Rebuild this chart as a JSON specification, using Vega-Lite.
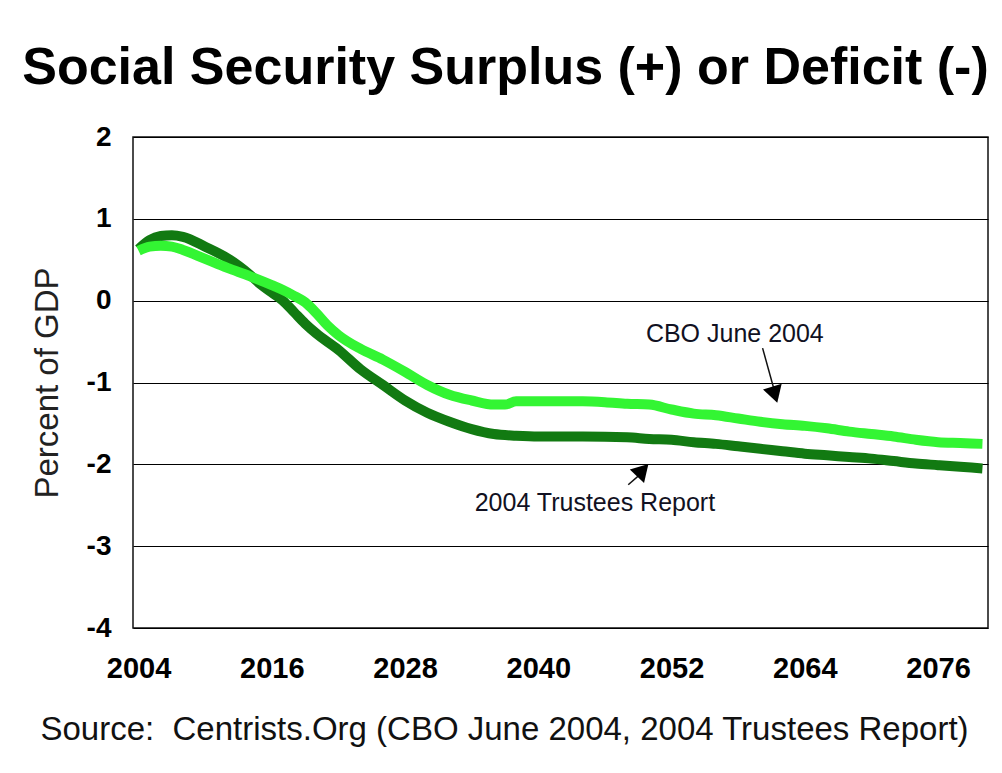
{
  "$schema": "https://vega.github.io/schema/vega-lite/v6.json",
  "width": 855,
  "height": 491,
  "autosize": "none",
  "padding": {"left": 133, "top": 137, "right": 14, "bottom": 145},
  "background": "white",
  "config": {
    "font": "Liberation Sans",
    "view": {"stroke": "#111111", "strokeWidth": 1.5}
  },
  "title": {
    "text": "Social Security Surplus (+) or Deficit (-)",
    "font": "Liberation Sans",
    "fontSize": 52,
    "fontWeight": "bold",
    "color": "#000000",
    "anchor": "middle",
    "frame": "group",
    "dx": -55,
    "offset": 28
  },
  "datasets": {
    "series": [
      {"year": 2004, "value": 0.63, "series": "2004 Trustees Report"},
      {"year": 2005, "value": 0.74, "series": "2004 Trustees Report"},
      {"year": 2006, "value": 0.79, "series": "2004 Trustees Report"},
      {"year": 2007, "value": 0.8, "series": "2004 Trustees Report"},
      {"year": 2008, "value": 0.78, "series": "2004 Trustees Report"},
      {"year": 2010, "value": 0.66, "series": "2004 Trustees Report"},
      {"year": 2012, "value": 0.52, "series": "2004 Trustees Report"},
      {"year": 2014, "value": 0.32, "series": "2004 Trustees Report"},
      {"year": 2015, "value": 0.2, "series": "2004 Trustees Report"},
      {"year": 2016, "value": 0.1, "series": "2004 Trustees Report"},
      {"year": 2017, "value": 0.0, "series": "2004 Trustees Report"},
      {"year": 2018, "value": -0.14, "series": "2004 Trustees Report"},
      {"year": 2019, "value": -0.28, "series": "2004 Trustees Report"},
      {"year": 2020, "value": -0.4, "series": "2004 Trustees Report"},
      {"year": 2022, "value": -0.6, "series": "2004 Trustees Report"},
      {"year": 2024, "value": -0.84, "series": "2004 Trustees Report"},
      {"year": 2026, "value": -1.03, "series": "2004 Trustees Report"},
      {"year": 2028, "value": -1.22, "series": "2004 Trustees Report"},
      {"year": 2030, "value": -1.37, "series": "2004 Trustees Report"},
      {"year": 2032, "value": -1.48, "series": "2004 Trustees Report"},
      {"year": 2034, "value": -1.57, "series": "2004 Trustees Report"},
      {"year": 2036, "value": -1.63, "series": "2004 Trustees Report"},
      {"year": 2038, "value": -1.65, "series": "2004 Trustees Report"},
      {"year": 2040, "value": -1.66, "series": "2004 Trustees Report"},
      {"year": 2044, "value": -1.66, "series": "2004 Trustees Report"},
      {"year": 2048, "value": -1.67, "series": "2004 Trustees Report"},
      {"year": 2050, "value": -1.69, "series": "2004 Trustees Report"},
      {"year": 2052, "value": -1.7, "series": "2004 Trustees Report"},
      {"year": 2054, "value": -1.73, "series": "2004 Trustees Report"},
      {"year": 2056, "value": -1.75, "series": "2004 Trustees Report"},
      {"year": 2058, "value": -1.78, "series": "2004 Trustees Report"},
      {"year": 2060, "value": -1.81, "series": "2004 Trustees Report"},
      {"year": 2062, "value": -1.84, "series": "2004 Trustees Report"},
      {"year": 2064, "value": -1.87, "series": "2004 Trustees Report"},
      {"year": 2066, "value": -1.89, "series": "2004 Trustees Report"},
      {"year": 2068, "value": -1.91, "series": "2004 Trustees Report"},
      {"year": 2070, "value": -1.93, "series": "2004 Trustees Report"},
      {"year": 2072, "value": -1.96, "series": "2004 Trustees Report"},
      {"year": 2074, "value": -1.99, "series": "2004 Trustees Report"},
      {"year": 2076, "value": -2.01, "series": "2004 Trustees Report"},
      {"year": 2078, "value": -2.03, "series": "2004 Trustees Report"},
      {"year": 2080, "value": -2.05, "series": "2004 Trustees Report"},
      {"year": 2004, "value": 0.61, "series": "CBO June 2004"},
      {"year": 2005, "value": 0.66, "series": "CBO June 2004"},
      {"year": 2006, "value": 0.67, "series": "CBO June 2004"},
      {"year": 2007, "value": 0.66, "series": "CBO June 2004"},
      {"year": 2008, "value": 0.62, "series": "CBO June 2004"},
      {"year": 2010, "value": 0.51, "series": "CBO June 2004"},
      {"year": 2012, "value": 0.4, "series": "CBO June 2004"},
      {"year": 2014, "value": 0.3, "series": "CBO June 2004"},
      {"year": 2016, "value": 0.19, "series": "CBO June 2004"},
      {"year": 2017, "value": 0.13, "series": "CBO June 2004"},
      {"year": 2018, "value": 0.06, "series": "CBO June 2004"},
      {"year": 2019, "value": -0.02, "series": "CBO June 2004"},
      {"year": 2020, "value": -0.15, "series": "CBO June 2004"},
      {"year": 2021, "value": -0.3, "series": "CBO June 2004"},
      {"year": 2022, "value": -0.42, "series": "CBO June 2004"},
      {"year": 2024, "value": -0.59, "series": "CBO June 2004"},
      {"year": 2026, "value": -0.72, "series": "CBO June 2004"},
      {"year": 2028, "value": -0.87, "series": "CBO June 2004"},
      {"year": 2030, "value": -1.03, "series": "CBO June 2004"},
      {"year": 2032, "value": -1.15, "series": "CBO June 2004"},
      {"year": 2034, "value": -1.22, "series": "CBO June 2004"},
      {"year": 2036, "value": -1.27, "series": "CBO June 2004"},
      {"year": 2037, "value": -1.27, "series": "CBO June 2004"},
      {"year": 2038, "value": -1.23, "series": "CBO June 2004"},
      {"year": 2040, "value": -1.23, "series": "CBO June 2004"},
      {"year": 2042, "value": -1.23, "series": "CBO June 2004"},
      {"year": 2044, "value": -1.23, "series": "CBO June 2004"},
      {"year": 2046, "value": -1.24, "series": "CBO June 2004"},
      {"year": 2048, "value": -1.26, "series": "CBO June 2004"},
      {"year": 2050, "value": -1.27, "series": "CBO June 2004"},
      {"year": 2052, "value": -1.33, "series": "CBO June 2004"},
      {"year": 2054, "value": -1.38, "series": "CBO June 2004"},
      {"year": 2056, "value": -1.4, "series": "CBO June 2004"},
      {"year": 2058, "value": -1.44, "series": "CBO June 2004"},
      {"year": 2060, "value": -1.48, "series": "CBO June 2004"},
      {"year": 2062, "value": -1.51, "series": "CBO June 2004"},
      {"year": 2064, "value": -1.53, "series": "CBO June 2004"},
      {"year": 2066, "value": -1.56, "series": "CBO June 2004"},
      {"year": 2068, "value": -1.6, "series": "CBO June 2004"},
      {"year": 2070, "value": -1.63, "series": "CBO June 2004"},
      {"year": 2072, "value": -1.66, "series": "CBO June 2004"},
      {"year": 2074, "value": -1.7, "series": "CBO June 2004"},
      {"year": 2076, "value": -1.73, "series": "CBO June 2004"},
      {"year": 2078, "value": -1.74, "series": "CBO June 2004"},
      {"year": 2080, "value": -1.75, "series": "CBO June 2004"}
    ],
    "labels": [
      {"label": "CBO June 2004", "year": 2057.7, "value": -0.41, "year1": 2060.2, "value1": -0.58, "year2": 2061.3, "value2": -1.12, "hy": 2061.3, "hv": -1.15, "shape": "triangle-down", "angle": -17},
      {"label": "2004 Trustees Report", "year": 2045.1, "value": -2.47, "year1": 2048.1, "value1": -2.25, "year2": 2049.2, "value2": -2.12, "hy": 2049.4, "hv": -2.07, "shape": "triangle-up", "angle": 43}
    ]
  },
  "encoding": {
    "x": {
      "field": "year",
      "type": "quantitative",
      "scale": {"domain": [2003.5, 2080.5], "nice": false, "zero": false},
      "axis": {
        "values": [2004, 2016, 2028, 2040, 2052, 2064, 2076],
        "format": "d",
        "grid": false,
        "ticks": false,
        "domain": false,
        "labelFont": "Liberation Sans",
        "labelFontSize": 29,
        "labelFontWeight": "bold",
        "labelColor": "#000000",
        "labelPadding": 26,
        "title": "Source:\u00a0\u00a0Centrists.Org (CBO June 2004, 2004 Trustees Report)",
        "titleFont": "Liberation Sans",
        "titleFontSize": 33,
        "titleFontWeight": "normal",
        "titleColor": "#111111",
        "titleX": 371,
        "titleAlign": "center",
        "titlePadding": 30
      }
    },
    "y": {
      "field": "value",
      "type": "quantitative",
      "scale": {"domain": [-4, 2], "nice": false, "zero": false},
      "axis": {
        "values": [-4, -3, -2, -1, 0, 1, 2],
        "labelExpr": "'' + datum.value",
        "grid": true,
        "gridColor": "#000000",
        "gridWidth": 1,
        "gridOpacity": 1,
        "ticks": false,
        "domain": false,
        "labelFont": "Liberation Sans",
        "labelFontSize": 28,
        "labelFontWeight": "bold",
        "labelColor": "#000000",
        "labelPadding": 22,
        "title": "Percent of GDP",
        "titleFont": "Liberation Sans",
        "titleFontSize": 33,
        "titleFontWeight": "normal",
        "titleColor": "#222222",
        "titlePadding": 22
      }
    }
  },
  "layer": [
    {
      "mark": {"type": "rule", "color": "#000000", "strokeWidth": 2.5},
      "encoding": {
        "x": {"datum": 2004},
        "x2": {"datum": 2079},
        "y": {"datum": 0}
      }
    },
    {
      "data": {"name": "series"},
      "transform": [{"filter": "datum.series === '2004 Trustees Report'"}],
      "mark": {"type": "line", "color": "#127a12", "strokeWidth": 10, "interpolate": "monotone", "strokeCap": "butt"}
    },
    {
      "data": {"name": "series"},
      "transform": [{"filter": "datum.series === 'CBO June 2004'"}],
      "mark": {"type": "line", "color": "#33f533", "strokeWidth": 10, "interpolate": "monotone", "strokeCap": "butt"}
    },
    {
      "data": {"name": "labels"},
      "mark": {"type": "text", "font": "Liberation Sans", "fontSize": 25, "color": "#111122", "align": "center", "baseline": "middle"},
      "encoding": {
        "text": {"field": "label"}
      }
    },
    {
      "data": {"name": "labels"},
      "mark": {"type": "rule", "color": "#111111", "strokeWidth": 1.5},
      "encoding": {
        "x": {"field": "year1", "type": "quantitative"},
        "y": {"field": "value1", "type": "quantitative"},
        "x2": {"field": "year2"},
        "y2": {"field": "value2"}
      }
    },
    {
      "data": {"name": "labels"},
      "mark": {"type": "point", "filled": true, "color": "#000000", "opacity": 1, "size": 380},
      "encoding": {
        "x": {"field": "hy", "type": "quantitative"},
        "y": {"field": "hv", "type": "quantitative"},
        "shape": {"field": "shape", "type": "nominal", "scale": null},
        "angle": {"field": "angle", "type": "quantitative", "scale": null}
      }
    }
  ]
}
